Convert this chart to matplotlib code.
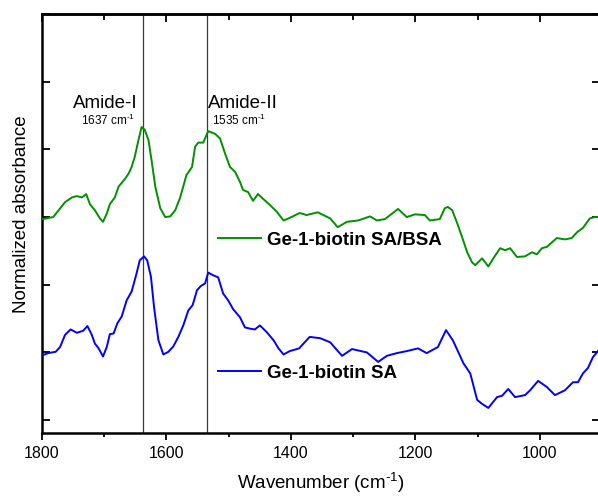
import matplotlib
matplotlib.use("Agg")
import matplotlib.pyplot as plt

plt.rcParams['font.family'] = ['Liberation Sans', 'DejaVu Sans']
plt.rcParams['mathtext.fontset'] = 'custom'
plt.rcParams['mathtext.rm'] = 'Liberation Sans'

# ---- data ----
wn_bsa = [1799, 1782, 1763, 1752, 1744, 1736, 1729, 1723, 1715, 1707, 1702, 1696, 1691,
          1683, 1677, 1667, 1661, 1656, 1651, 1645, 1640, 1635, 1629, 1624, 1618, 1610,
          1602, 1594, 1586, 1578, 1568, 1559, 1554, 1549, 1541, 1533, 1522, 1514, 1506,
          1498, 1490, 1482, 1477, 1469, 1461, 1453, 1445, 1434, 1423, 1412, 1404, 1386,
          1375, 1357, 1337, 1325, 1310, 1292, 1273, 1262, 1249, 1228, 1214, 1201, 1185,
          1177, 1161, 1153, 1148, 1141, 1133, 1125, 1117, 1109, 1104, 1093, 1088, 1083,
          1075, 1064, 1056, 1048, 1037, 1024, 1013, 1005, 997, 989, 973, 960, 949, 940,
          931, 920, 912, 905]
abs_bsa = [2.97, 3.00, 3.22, 3.29, 3.31, 3.29, 3.34, 3.19, 3.10, 2.98, 2.93, 3.05, 3.19,
           3.29, 3.45, 3.56, 3.64, 3.74, 3.89, 4.14, 4.33, 4.29, 4.14, 3.84, 3.45, 3.13,
           3.00, 3.01, 3.10, 3.29, 3.62, 3.74, 4.04, 4.10, 4.10, 4.27, 4.23, 4.16, 3.94,
           3.74, 3.67, 3.52, 3.40, 3.37, 3.24, 3.34, 3.27, 3.18, 3.08, 2.95, 2.98, 3.06,
           3.03, 3.07, 2.98, 2.85, 2.93, 2.95, 3.01, 2.95, 2.97, 3.12, 3.00, 3.04, 3.03,
           2.95, 2.97, 3.13, 3.15, 3.10, 2.91, 2.70, 2.48, 2.33, 2.29, 2.39, 2.33, 2.27,
           2.39, 2.54, 2.51, 2.54, 2.41, 2.42, 2.48, 2.45, 2.54, 2.56, 2.69, 2.67, 2.69, 2.78,
           2.84, 2.98, 3.00, 3.00]

wn_sa = [1799, 1790, 1778, 1771, 1763, 1754, 1744, 1734, 1727, 1720, 1715, 1709, 1702,
         1696, 1691, 1685, 1679, 1672, 1664, 1656, 1648, 1643, 1636, 1631, 1625, 1620,
         1613, 1605, 1597, 1589, 1581, 1573, 1565, 1558, 1551, 1545, 1538, 1533, 1525,
         1517, 1509, 1501, 1493, 1482, 1474, 1465, 1458, 1450, 1439, 1428, 1420, 1412,
         1402, 1387, 1370, 1353, 1337, 1318, 1302, 1278, 1260, 1246, 1230, 1214, 1196,
         1182, 1164, 1151, 1140, 1123, 1112, 1101, 1093, 1083, 1069, 1061, 1051, 1040,
         1024, 1016, 1003, 989, 976, 960, 947, 939, 931, 923, 915, 905]
abs_sa = [0.96, 0.99, 1.01, 1.08, 1.26, 1.34, 1.29, 1.32, 1.39, 1.26, 1.13, 1.06, 0.94,
          1.08, 1.27, 1.28, 1.43, 1.53, 1.77, 1.90, 2.17, 2.36, 2.42, 2.36, 2.12, 1.67,
          1.18, 0.97, 1.01, 1.09, 1.23, 1.40, 1.62, 1.70, 1.92, 1.98, 2.02, 2.18, 2.14,
          2.11, 1.87, 1.77, 1.64, 1.52, 1.37, 1.35, 1.34, 1.40, 1.30, 1.18, 1.06, 0.97,
          1.02, 1.06, 1.23, 1.21, 1.15, 0.95, 1.05, 1.00, 0.86, 0.95, 0.99, 1.02, 1.06,
          0.99, 1.08, 1.33, 1.18, 0.84, 0.69, 0.30, 0.24, 0.18, 0.34, 0.36, 0.46, 0.34,
          0.37, 0.44, 0.58, 0.49, 0.37, 0.44, 0.56, 0.56, 0.69, 0.77, 0.93, 1.04]

label_bsa = "Ge-1-biotin SA/BSA"
label_sa = "Ge-1-biotin SA"
amide_peaks = [1637, 1535]
amide_names = ["Amide-I", "Amide-II"]
x_ticks = [1800, 1600, 1400, 1200, 1000]
x_minor = [1700, 1500, 1300, 1100]

fig = plt.figure(figsize=(5.98, 4.98), dpi=100)
ax = fig.add_axes([42/598, 65/498, 558/598, 419/498])

for xp in amide_peaks:
    ax.axvline(xp, color='#3a3a3a', lw=0.9, zorder=1)

l1, = ax.plot(wn_bsa, abs_bsa, color='#009000', lw=1.4, zorder=3, solid_joinstyle='round')
l2, = ax.plot(wn_sa, abs_sa, color='#0000ff', lw=1.4, zorder=3, solid_joinstyle='round')

ax.set_xlim(1800, 903.6)
ax.set_ylim(-0.19, 6.0)

ax.set_xticks(x_ticks)
ax.set_xticks(x_minor, minor=True)
ax.set_yticks(range(0, 7))
ax.set_yticklabels([])
ax.tick_params(axis='x', which='major', direction='out', length=5, width=1.3,
               labelsize=11.5, pad=4, top=False)
ax.tick_params(axis='x', which='minor', direction='out', length=3, width=1.3, top=False)
ax.tick_params(axis='y', which='major', direction='in', length=6, width=1.3,
               left=True, right=True)
for s in ax.spines.values():
    s.set_linewidth(1.8)

sec = ax.secondary_xaxis('top')
sec.set_xticks(x_ticks)
sec.set_xticks(x_minor, minor=True)
sec.tick_params(axis='x', which='major', direction='in', length=6, width=1.3, labeltop=False)
sec.tick_params(axis='x', which='minor', direction='in', length=4, width=1.3)
sec.spines['top'].set_linewidth(1.8)

ax.set_xlabel(r"Wavenumber (cm$^{\text{-1}}$)", fontsize=13.5, labelpad=7)
ax.set_ylabel("Normalized absorbance", fontsize=13.5, labelpad=5)
ax.yaxis.label.set_y(0.523)

# amide annotations
ax.text(1750.2, 4.61, amide_names[0], fontsize=13.5, ha='left', va='baseline')
ax.text(1737.3, 4.36, r"%d cm$^{\text{-1}}$" % amide_peaks[0], fontsize=8.5,
        ha='left', va='baseline')
ax.text(1533.3, 4.61, amide_names[1], fontsize=13.5, ha='left', va='baseline')
ax.text(1526.9, 4.36, r"%d cm$^{\text{-1}}$" % amide_peaks[1], fontsize=8.5,
        ha='left', va='baseline')

prop = dict(size=13.5, weight='bold')
leg1 = ax.legend([l1], [label_bsa], loc='center left', bbox_to_anchor=(176/558, 193/419),
                 frameon=False, prop=prop, handlelength=2.3, handletextpad=0.3,
                 borderpad=0, borderaxespad=0)
ax.add_artist(leg1)
ax.legend([l2], [label_sa], loc='center left', bbox_to_anchor=(176/558, 60/419),
          frameon=False, prop=prop, handlelength=2.3, handletextpad=0.3,
          borderpad=0, borderaxespad=0)

fig.savefig("out.png", dpi=100)
